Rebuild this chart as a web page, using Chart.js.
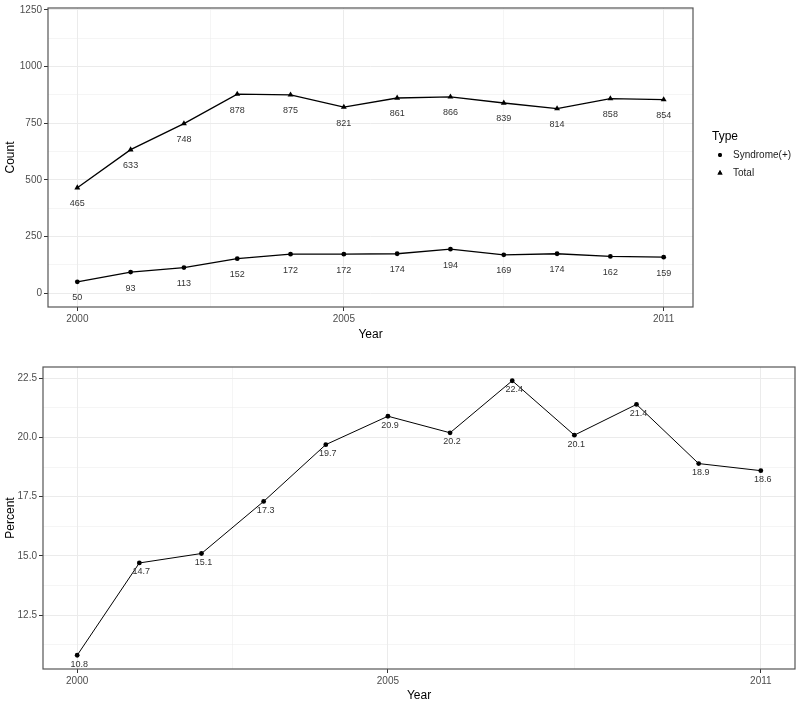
<!DOCTYPE html>
<html>
<head>
<meta charset="utf-8">
<script src="https://cdn.jsdelivr.net/npm/chart.js@4/dist/chart.umd.min.js"></script>
<style>
  body { margin: 0; background: #fff; }
  canvas { position: absolute; left: 0; }
  #topChart { top: 0; }
  #bottomChart { top: 345px; }
</style>
</head>
<body>
<canvas id="topChart" width="800" height="345"></canvas>
<canvas id="bottomChart" width="800" height="358"></canvas>
<script>
// data
const years = [2000, 2001, 2002, 2003, 2004, 2005, 2006, 2007, 2008, 2009, 2010, 2011]
const syndrome = [50, 93, 113, 152, 172, 172, 174, 194, 169, 174, 162, 159]
const total = [465, 633, 748, 878, 875, 821, 861, 866, 839, 814, 858, 854]
const percent = [10.8, 14.7, 15.1, 17.3, 19.7, 20.9, 20.2, 22.4, 20.1, 21.4, 18.9, 18.6]

const yearTicks = [2000, 2005, 2011]
const yearMinor = [2002.5, 2008]
const countTicks = [0, 250, 500, 750, 1000, 1250]
const countMinor = [125, 375, 625, 875, 1125]
const percentTicks = [12.5, 15, 17.5, 20, 22.5]
const percentMinor = [11.25, 13.75, 16.25, 18.75, 21.25]

const FONT = "'Liberation Sans', Arial, sans-serif"

const toXY = (vals) => years.map((yr, i) => ({x: yr, y: vals[i]}))

// eixo com linhas principais e secundarias
const eixo = (major, minor, min, max, titulo, titlePad, fmt, extra) => {
  const isMinor = (v) => minor.includes(v)
  return Object.assign({
    type: 'linear',
    min: min,
    max: max,
    afterBuildTicks: (axis) => {
      axis.ticks = major.concat(minor).sort((a, b) => a - b).map(v => ({value: v}))
    },
    ticks: {
      autoSkip: false,
      maxRotation: 0,
      padding: 2,
      color: '#4d4d4d',
      font: {family: FONT, size: 10},
      callback: (v) => isMinor(v) ? '' : fmt(v)
    },
    grid: {
      color: '#ebebeb',
      lineWidth: (ctx) => ctx.tick && isMinor(ctx.tick.value) ? 0.5 : 1,
      tickColor: (ctx) => ctx.tick && isMinor(ctx.tick.value) ? 'rgba(0,0,0,0)' : '#333',
      tickLength: 4
    },
    border: {display: false},
    title: {
      display: true,
      text: titulo,
      color: '#000',
      font: {family: FONT, size: 12},
      padding: titlePad
    }
  }, extra)
}

// moldura do painel
const moldura = {
  id: 'moldura',
  afterDraw(chart) {
    const {ctx, chartArea: a} = chart
    ctx.save()
    ctx.strokeStyle = '#555'
    ctx.lineWidth = 1.2
    ctx.strokeRect(a.left, a.top, a.right - a.left, a.bottom - a.top)
    ctx.restore()
  }
}

// rotulos embaixo dos pontos
const rotulos = {
  id: 'rotulos',
  afterDatasetsDraw(chart, args, opts) {
    const ctx = chart.ctx
    ctx.save()
    ctx.fillStyle = '#333'
    ctx.font = '9px ' + FONT
    ctx.textAlign = 'center'
    ctx.textBaseline = 'middle'
    chart.data.datasets.forEach((ds, i) => {
      const meta = chart.getDatasetMeta(i)
      meta.data.forEach((pt, j) => {
        const v = ds.data[j].y
        ctx.fillText(opts.fmt(v), pt.x + opts.dx, pt.y + opts.dy)
      })
    })
    ctx.restore()
  }
}

// legenda desenhada a mao
const legenda = {
  id: 'legenda',
  afterDraw(chart) {
    const ctx = chart.ctx
    ctx.save()
    ctx.fillStyle = '#000'
    ctx.textBaseline = 'middle'
    ctx.textAlign = 'left'
    ctx.font = '12px ' + FONT
    ctx.fillText('Type', 712, 137)
    ctx.font = '10px ' + FONT
    chart.data.datasets.forEach((ds, i) => {
      const y = 155 + i * 18
      Chart.helpers.drawPoint(ctx, {pointStyle: ds.pointStyle, radius: ds.pointRadius - 0.5, borderWidth: 0}, 720, y)
      ctx.fillStyle = '#000'
      ctx.fill()
      ctx.fillStyle = '#1a1a1a'
      ctx.fillText(ds.label, 733, y)
    })
    ctx.restore()
  }
}

const serie = (label, vals, estilo, raio, largura) => ({
  label: label,
  data: toXY(vals),
  borderColor: '#000',
  backgroundColor: '#000',
  borderWidth: largura,
  pointStyle: estilo,
  pointRadius: raio,
  pointBorderWidth: 0,
  pointBackgroundColor: '#000',
  tension: 0
})

new Chart(document.getElementById('topChart'), {
  type: 'line',
  data: {
    datasets: [
      serie('Syndrome(+)', syndrome, 'circle', 2.4, 1.3),
      serie('Total', total, 'triangle', 3.4, 1.3)
    ]
  },
  options: {
    responsive: false,
    animation: false,
    devicePixelRatio: 1,
    layout: {padding: {left: 0, top: 5, right: 107, bottom: 0}},
    plugins: {
      legend: {display: false},
      tooltip: {enabled: false},
      rotulos: {fmt: (v) => String(v), dx: 0, dy: 16}
    },
    scales: {
      x: eixo(yearTicks, yearMinor, 1999.45, 2011.55, 'Year', {top: 0, bottom: 3}, String,
        {afterFit: (s) => { s.height = 38 }}),
      y: eixo(countTicks, countMinor, -61, 1258, 'Count', {top: 3, bottom: 0}, String,
        {afterFit: (s) => { s.width = 48 }})
    }
  },
  plugins: [moldura, rotulos, legenda]
})

new Chart(document.getElementById('bottomChart'), {
  type: 'line',
  data: {
    datasets: [serie('Percent', percent, 'circle', 2.4, 1)]
  },
  options: {
    responsive: false,
    animation: false,
    devicePixelRatio: 1,
    layout: {padding: {left: 0, top: 22, right: 5, bottom: 0}},
    plugins: {
      legend: {display: false},
      tooltip: {enabled: false},
      rotulos: {fmt: (v) => v.toFixed(1), dx: 2, dy: 9}
    },
    scales: {
      x: eixo(yearTicks, yearMinor, 1999.45, 2011.55, 'Year', {top: 0, bottom: 0}, String,
        {afterFit: (s) => { s.height = 34 }}),
      y: eixo(percentTicks, percentMinor, 10.22, 22.98, 'Percent', {top: 3, bottom: 0}, (v) => v.toFixed(1),
        {afterFit: (s) => { s.width = 43 }})
    }
  },
  plugins: [moldura, rotulos]
})
</script>
</body>
</html>
